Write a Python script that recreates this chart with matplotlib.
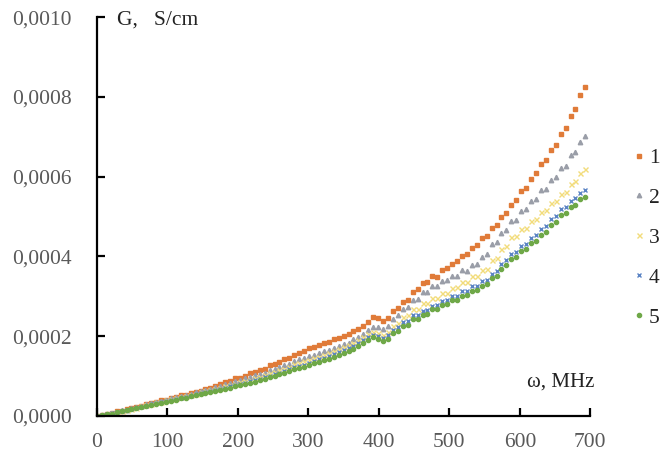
import numpy as np
import matplotlib
matplotlib.use("Agg")
import matplotlib.pyplot as plt
from matplotlib.lines import Line2D

# frequency, MHz
freq = list(range(0, 700, 7))

# conductivity values in 1e-6 S/cm
g1 = [0, 2, 5, 8, 12, 13, 17, 20, 23, 26, 31, 32, 36, 39, 41, 45, 47, 52, 53, 58,
      60, 63, 68, 70, 75, 80, 84, 87, 94, 96, 101, 107, 110, 116, 118, 127, 131, 136, 142, 145,
      153, 158, 162, 171, 174, 178, 183, 186, 192, 196, 200, 205, 212, 218, 226, 236, 248, 245, 238, 246,
      262, 270, 286, 292, 310, 318, 334, 336, 350, 349, 365, 370, 381, 388, 401, 406, 421, 428, 447, 452,
      471, 478, 499, 508, 530, 541, 563, 571, 594, 608, 632, 642, 666, 680, 708, 722, 752, 770, 804, 825]
g2 = [0, 2, 4, 8, 11, 14, 16, 20, 22, 26, 29, 32, 35, 38, 41, 44, 47, 51, 53, 56,
      59, 62, 65, 68, 73, 76, 80, 82, 87, 89, 94, 98, 102, 106, 109, 115, 118, 123, 128, 131,
      138, 142, 146, 151, 154, 159, 162, 166, 171, 175, 180, 184, 192, 198, 206, 216, 224, 222, 218, 226,
      242, 252, 268, 272, 292, 294, 310, 312, 325, 326, 339, 340, 351, 352, 366, 364, 379, 380, 398, 406,
      431, 436, 459, 466, 488, 492, 513, 518, 538, 544, 566, 570, 592, 598, 622, 628, 654, 662, 688, 702]
g3 = [0, 2, 4, 7, 10, 13, 16, 18, 21, 25, 28, 31, 34, 36, 39, 42, 45, 48, 51, 53,
      56, 59, 62, 64, 67, 71, 74, 77, 80, 84, 87, 91, 94, 98, 102, 107, 110, 115, 119, 124,
      130, 134, 137, 141, 145, 149, 154, 158, 163, 167, 172, 177, 183, 190, 198, 205, 211, 208, 204, 211,
      226, 233, 249, 252, 269, 269, 283, 283, 296, 295, 308, 309, 322, 323, 337, 336, 351, 352, 367, 369,
      390, 395, 418, 427, 448, 452, 468, 471, 490, 494, 512, 516, 534, 539, 557, 562, 582, 588, 608, 618]
g4 = [0, 2, 4, 7, 10, 12, 15, 18, 20, 23, 26, 29, 32, 34, 37, 40, 43, 46, 48, 51,
      54, 57, 59, 62, 65, 68, 71, 74, 77, 80, 83, 87, 90, 93, 97, 101, 105, 109, 113, 117,
      122, 126, 129, 133, 137, 142, 146, 150, 155, 160, 165, 170, 176, 183, 190, 197, 204, 201, 195, 202,
      216, 222, 235, 239, 252, 253, 264, 266, 277, 278, 289, 291, 301, 302, 313, 314, 325, 327, 339, 342,
      357, 364, 381, 390, 407, 412, 426, 431, 447, 453, 469, 476, 493, 501, 519, 525, 540, 546, 560, 567]
g5 = [0, 2, 4, 6, 9, 12, 14, 17, 19, 22, 25, 28, 30, 33, 35, 38, 41, 44, 46, 49,
      52, 54, 57, 60, 62, 65, 68, 71, 74, 77, 80, 83, 86, 90, 93, 97, 101, 105, 108, 112,
      117, 121, 124, 128, 132, 136, 140, 144, 149, 154, 158, 163, 169, 176, 183, 190, 197, 193, 187, 194,
      207, 213, 226, 229, 242, 243, 254, 256, 267, 268, 279, 281, 291, 291, 302, 303, 314, 316, 326, 330,
      345, 352, 369, 378, 394, 398, 413, 418, 434, 439, 455, 462, 479, 486, 503, 509, 524, 529, 544, 550]

labels = ["1", "2", "3", "4", "5"]
colors = ["#E07B39", "#9A9EA8", "#F2DC7A", "#5A83C4", "#6FA848"]
markers = ["s", "^", "x", "x", "o"]
sizes = [3.0, 3.2, 3.6, 3.2, 3.0]

plt.rcParams['font.family'] = ['Liberation Serif', 'DejaVu Serif']

fig = plt.figure(figsize=(6.64, 4.59), dpi=100)
ax = fig.add_axes([0.146, 0.0937, 0.743, 0.869])

x = np.array(freq)
for vals, c, m, s, lab in zip([g1, g2, g3, g4, g5], colors, markers, sizes, labels):
    y = np.array(vals) * 1e-6
    ax.plot(x, y, linestyle="none", marker=m, markersize=s, color=c,
            markeredgewidth=1.0, label=lab)

ax.set_xlim(0, 700)
ax.set_ylim(0, 0.001)
ax.set_xticks(range(0, 701, 100))
ax.set_yticks([0, 0.0002, 0.0004, 0.0006, 0.0008, 0.0010])
ax.set_yticklabels(["0,0000", "0,0002", "0,0004", "0,0006", "0,0008", "0,0010"])
for sp in ["top", "right"]:
    ax.spines[sp].set_visible(False)
for sp in ["left", "bottom"]:
    ax.spines[sp].set_linewidth(1.6)
    ax.spines[sp].set_color("black")
ax.tick_params(direction="in", length=6, width=1.6, labelsize=15.5,
               labelcolor="#595959")
ax.tick_params(axis="y", pad=18)
ax.tick_params(axis="x", pad=12)

ax.text(0.04, 0.993, "G,   S/cm", transform=ax.transAxes, fontsize=15.5,
        color="#222222", va="center", ha="left")
ax.text(0.94, 0.085, "ω, MHz", transform=ax.transAxes, fontsize=15,
        color="#222222", va="center", ha="center")

handles = [Line2D([], [], linestyle="none", marker=m, markersize=s, color=c,
                  markeredgewidth=1.0) for c, m, s in zip(colors, markers, sizes)]
fig.legend(handles, labels, loc="center left", bbox_to_anchor=(0.956, 0.482),
           frameon=False, fontsize=15.5, handlelength=0.4, handletextpad=0.25,
           labelspacing=0.92, labelcolor="#222222", borderpad=0, borderaxespad=0)

fig.savefig("out.png", dpi=100)
